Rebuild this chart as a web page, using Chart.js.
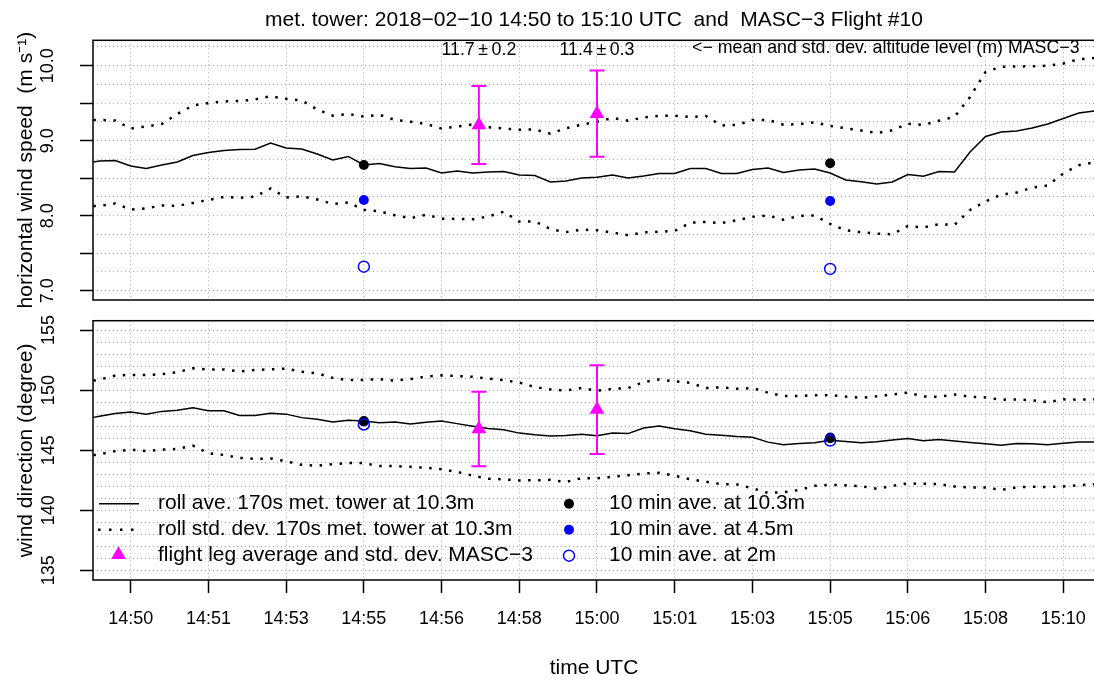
<!DOCTYPE html>
<html>
<head>
<meta charset="utf-8">
<script src="https://cdn.jsdelivr.net/npm/chart.js@4.4.1/dist/chart.umd.min.js"></script>
<style>
  html, body { margin: 0; padding: 0; background: #fff; overflow: hidden; }
  #wrap { position: relative; width: 1094px; height: 681px; overflow: hidden; background: #fff; }
  canvas { position: absolute; left: 0; }
  #speedChart { top: 0; }
  #dirChart { top: 300px; }
</style>
</head>
<body>
<div id="wrap">
  <canvas id="speedChart" width="1095" height="320"></canvas>
  <canvas id="dirChart" width="1095" height="381"></canvas>
</div>
<script>
// time axis in seconds after 14:50:00 UTC
const towerTime = [-48, -40, -20, 0, 20, 40, 60, 80, 100, 120, 140, 160, 180, 200, 220, 240, 260, 280,
  300, 320, 340, 360, 380, 400, 420, 440, 460, 480, 500, 520, 540, 560, 580, 600, 620, 640, 660, 680,
  700, 720, 740, 760, 780, 800, 820, 840, 860, 880, 900, 920, 940, 960, 980, 1000, 1020, 1040, 1060,
  1080, 1100, 1120, 1140, 1160, 1180, 1200, 1220, 1240];

// tick positions (every 100 s)
const xTickValues = [0, 100, 200, 300, 400, 500, 600, 700, 800, 900, 1000, 1100, 1200];

// met. tower 10.3m, rolling 170s mean and mean +/- std. dev.
const speedMean = [8.717, 8.730, 8.737, 8.663, 8.630, 8.677, 8.717, 8.803, 8.843, 8.870, 8.883, 8.886,
  8.970, 8.903, 8.890, 8.823, 8.743, 8.790, 8.677, 8.697, 8.654, 8.630, 8.637, 8.570, 8.597, 8.570,
  8.583, 8.590, 8.543, 8.537, 8.450, 8.463, 8.503, 8.513, 8.543, 8.503, 8.530, 8.563, 8.563, 8.630,
  8.630, 8.563, 8.563, 8.617, 8.637, 8.577, 8.610, 8.623, 8.570, 8.477, 8.454, 8.423, 8.450, 8.550,
  8.526, 8.590, 8.583, 8.850, 9.057, 9.117, 9.130, 9.170, 9.223, 9.297, 9.370, 9.397];
const speedUpper = [9.277, 9.277, 9.270, 9.163, 9.190, 9.223, 9.357, 9.470, 9.503, 9.523, 9.530, 9.550,
  9.593, 9.559, 9.537, 9.417, 9.334, 9.357, 9.321, 9.346, 9.277, 9.253, 9.223, 9.163, 9.190, 9.217,
  9.179, 9.163, 9.146, 9.150, 9.094, 9.166, 9.213, 9.253, 9.303, 9.267, 9.310, 9.333, 9.334, 9.317,
  9.330, 9.203, 9.210, 9.277, 9.277, 9.214, 9.221, 9.246, 9.197, 9.166, 9.137, 9.103, 9.139, 9.227,
  9.210, 9.267, 9.317, 9.583, 9.917, 9.986, 9.990, 9.993, 9.999, 10.029, 10.087, 10.103];
const speedLower = [8.130, 8.130, 8.163, 8.083, 8.097, 8.137, 8.130, 8.170, 8.210, 8.250, 8.239, 8.254,
  8.363, 8.243, 8.259, 8.217, 8.157, 8.177, 8.077, 8.059, 8.006, 7.967, 8.014, 7.961, 7.957, 7.953,
  7.990, 8.053, 7.921, 7.923, 7.823, 7.781, 7.814, 7.805, 7.775, 7.739, 7.777, 7.787, 7.797, 7.907,
  7.917, 7.901, 7.939, 7.985, 8.003, 7.946, 7.997, 8.003, 7.890, 7.806, 7.779, 7.761, 7.753, 7.863,
  7.843, 7.887, 7.877, 8.077, 8.190, 8.281, 8.310, 8.374, 8.403, 8.563, 8.674, 8.713];

const dirMean = [147.73, 147.83, 148.06, 148.18, 148.00, 148.23, 148.32, 148.54, 148.29, 148.28, 147.88,
  147.88, 148.08, 148.00, 147.71, 147.58, 147.35, 147.50, 147.42, 147.28, 147.35, 147.17, 147.33,
  147.43, 147.21, 147.00, 146.81, 146.70, 146.42, 146.28, 146.18, 146.23, 146.33, 146.20, 146.42,
  146.38, 146.85, 147.02, 146.79, 146.61, 146.33, 146.24, 146.14, 146.07, 145.67, 145.45, 145.56,
  145.62, 145.83, 145.72, 145.61, 145.71, 145.85, 145.98, 145.79, 145.88, 145.77, 145.64, 145.53,
  145.42, 145.56, 145.54, 145.46, 145.58, 145.68, 145.69];
const dirUpper = [150.79, 150.88, 151.21, 151.27, 151.25, 151.33, 151.50, 151.81, 151.71, 151.72, 151.56,
  151.68, 151.73, 151.79, 151.52, 151.40, 151.02, 150.83, 150.85, 150.92, 150.79, 150.92, 151.13,
  151.23, 151.17, 151.11, 150.96, 150.83, 150.63, 150.25, 150.06, 149.96, 150.17, 149.95, 150.10,
  150.17, 150.67, 150.89, 150.73, 150.60, 150.17, 150.23, 150.11, 150.17, 149.79, 149.50, 149.50,
  149.58, 149.58, 149.46, 149.37, 149.48, 149.64, 149.79, 149.48, 149.44, 149.64, 149.45, 149.39,
  149.20, 149.23, 149.14, 149.00, 149.23, 149.20, 149.25];
const dirLower = [144.58, 144.67, 144.92, 145.04, 144.93, 145.05, 145.10, 145.38, 144.75, 144.60, 144.36,
  144.28, 144.31, 144.08, 143.78, 143.71, 143.83, 143.94, 143.92, 143.68, 143.67, 143.61, 143.53,
  143.42, 143.19, 142.88, 142.63, 142.57, 142.48, 142.49, 142.53, 142.35, 142.67, 142.66, 142.79,
  142.92, 143.06, 143.11, 142.87, 142.58, 142.37, 142.17, 142.15, 141.83, 141.44, 141.50, 141.68,
  142.03, 142.12, 142.07, 142.00, 141.79, 142.03, 142.23, 142.20, 142.17, 141.98, 141.89, 141.90,
  141.69, 141.91, 141.96, 141.93, 141.98, 142.08, 142.17];

// 10 min averages (14:55 and 15:05)
const avgTime = [300, 900];
const speed10m = [8.677, 8.700];
const speed4m = [8.210, 8.197];
const speed2m = [7.320, 7.290];
const dir10m = [147.42, 146.00];
const dir4m = [147.38, 146.05];
const dir2m = [147.14, 145.80];

// MASC-3 flight legs
const legTime = [448, 600];
const legSpeedMean = [9.21, 9.36];
const legSpeedSd = [0.52, 0.575];
const legDirMean = [146.77, 148.38];
const legDirSd = [3.10, 3.70];
const legAltMean = ["11.7", "11.4"];
const legAltSd = ["0.2", "0.3"];

const FONT = '"Liberation Sans", Arial, Helvetica, sans-serif';
const MAGENTA = "#ff00ff";
const BLUE = "#0000ff";
const GRID = "#a8a8a8";
const DOTS = [2.5, 7.5];

Chart.defaults.font.family = FONT;
Chart.defaults.color = "#000";

// x range: left edge 14:49:11, right edge just past the picture
const xMin = -48.5;
const xMax = 1240.8;

function pairs(xs, ys) {
    return xs.map((x, i) => ({ x: x, y: ys[i] }));
}

function errorBars(xs, mean, sd) {
    const out = [];
    xs.forEach((x, i) => {
        if (i > 0) out.push({ x: x - 1, y: null });
        out.push({ x: x, y: mean[i] - sd[i] }, { x: x, y: mean[i] + sd[i] });
    });
    return out;
}

function isMultiple(v, step) {
    const r = v / step;
    return Math.abs(r - Math.round(r)) < 1e-6;
}

function clock(v) {
    const s = 14 * 3600 + 50 * 60 + v;
    const h = Math.floor(s / 3600);
    const m = Math.floor((s % 3600) / 60);
    return h + ":" + String(m).padStart(2, "0");
}

function buildDatasets(mean, upper, lower, p10, p4, p2, lMean, lSd) {
    return [
        { data: pairs(avgTime, p2), showLine: false, pointRadius: 5.5, pointBorderWidth: 1.5,
          pointBorderColor: BLUE, pointBackgroundColor: "rgba(0,0,0,0)" },
        { data: pairs(avgTime, p10), showLine: false, pointRadius: 5, pointBorderWidth: 0,
          pointBackgroundColor: "#000" },
        { data: pairs(avgTime, p4), showLine: false, pointRadius: 5, pointBorderWidth: 0,
          pointBackgroundColor: BLUE },
        { data: pairs(legTime, lMean), showLine: false, pointStyle: "triangle", pointRadius: 8.5,
          pointBorderWidth: 0, pointBackgroundColor: MAGENTA },
        { data: errorBars(legTime, lMean, lSd), borderColor: MAGENTA, borderWidth: 2, spanGaps: false,
          pointStyle: "line", pointRadius: 7.5, pointBorderWidth: 2, pointBorderColor: MAGENTA },
        { data: pairs(towerTime, mean), borderColor: "#000", borderWidth: 1.5, pointRadius: 0 },
        { data: pairs(towerTime, upper), borderColor: "#000", borderWidth: 2.5, borderDash: DOTS, pointRadius: 0 },
        { data: pairs(towerTime, lower), borderColor: "#000", borderWidth: 2.5, borderDash: DOTS, pointRadius: 0 }
    ];
}

function xScale(showLabels) {
    const s = {
        type: "linear",
        min: xMin,
        max: xMax,
        afterBuildTicks: sc => { sc.ticks = xTickValues.map(v => ({ value: v })); },
        border: { display: false, dash: [1, 3] }
    };
    if (showLabels) {
        s.afterFit = sc => { sc.height = 101; sc.paddingLeft = 0; sc.paddingRight = 0; };
        s.ticks = { autoSkip: false, maxRotation: 0, minRotation: 0, padding: 15.7,
                    font: { size: 18 }, color: "#000", callback: v => clock(v) };
        s.grid = { color: GRID, lineWidth: 1, tickLength: 13, tickWidth: 1.5, tickColor: "#000" };
        s.title = { display: true, text: "time UTC", font: { size: 21 }, color: "#000", padding: { top: 0, bottom: 0.5 } };
    } else {
        s.ticks = { display: false };
        s.grid = { color: GRID, lineWidth: 1, drawTicks: false };
    }
    return s;
}

function yScale(min, max, step, tickEvery, labelEvery, fmt, title, pad) {
    return {
        type: "linear",
        min: min,
        max: max,
        afterFit: s => { s.width = 93; s.paddingTop = 0; s.paddingBottom = 0; },
        ticks: {
            stepSize: step, includeBounds: false, autoSkip: false,
            minRotation: 90, maxRotation: 90, crossAlign: "center", padding: pad,
            font: { size: 18 }, color: "#000",
            callback: v => isMultiple(v, labelEvery) ? fmt(v) : ""
        },
        grid: {
            color: GRID, lineWidth: 1, tickLength: 13, tickWidth: 1.5,
            tickColor: c => (c.tick && isMultiple(c.tick.value, tickEvery)) ? "#000" : "rgba(0,0,0,0)"
        },
        border: { display: false, dash: [1, 3] },
        title: { display: true, text: title, font: { size: 21 }, color: "#000", padding: { top: 14, bottom: 0 } }
    };
}

const boxPlugin = {
    id: "box",
    afterDatasetsDraw(chart) {
        const { ctx, chartArea: a } = chart;
        ctx.save();
        ctx.strokeStyle = "#000";
        ctx.lineWidth = 1.5;
        ctx.strokeRect(a.left, a.top, a.right - a.left, a.bottom - a.top);
        ctx.restore();
    }
};

const altitudePlugin = {
    id: "altitude",
    afterDatasetsDraw(chart) {
        const { ctx } = chart;
        const x = chart.scales.x;
        ctx.save();
        ctx.font = "17.8px " + FONT;
        ctx.fillStyle = "#000";
        ctx.textBaseline = "middle";
        ctx.textAlign = "center";
        legTime.forEach((t, i) => {
            ctx.fillText(legAltMean[i] + "\u2009\u00b1\u2009" + legAltSd[i], x.getPixelForValue(t), 50);
        });
        ctx.textAlign = "left";
        ctx.fillText("<\u2212 mean and std. dev. altitude level (m) MASC\u22123", 692, 48);
        ctx.restore();
    }
};

const legendPlugin = {
    id: "rlegend",
    afterDatasetsDraw(chart) {
        const { ctx } = chart;
        const rows = [203.7, 229.7, 255.7];
        ctx.save();
        // left column
        ctx.strokeStyle = "#000";
        ctx.lineWidth = 1.5;
        ctx.beginPath();
        ctx.moveTo(99, rows[0]);
        ctx.lineTo(139, rows[0]);
        ctx.stroke();
        ctx.lineWidth = 2.5;
        ctx.setLineDash([2.5, 8.5]);
        ctx.beginPath();
        ctx.moveTo(98, rows[1]);
        ctx.lineTo(136, rows[1]);
        ctx.stroke();
        ctx.setLineDash([]);
        const r = 8.5, tx = 118.5, ty = rows[2] - 1;
        ctx.fillStyle = MAGENTA;
        ctx.beginPath();
        ctx.moveTo(tx, ty - r);
        ctx.lineTo(tx + r * 0.866, ty + r / 2);
        ctx.lineTo(tx - r * 0.866, ty + r / 2);
        ctx.closePath();
        ctx.fill();
        // right column
        ctx.fillStyle = "#000";
        ctx.beginPath();
        ctx.arc(569, rows[0], 5, 0, Math.PI * 2);
        ctx.fill();
        ctx.fillStyle = BLUE;
        ctx.beginPath();
        ctx.arc(569, rows[1], 5, 0, Math.PI * 2);
        ctx.fill();
        ctx.strokeStyle = BLUE;
        ctx.lineWidth = 1.5;
        ctx.beginPath();
        ctx.arc(569, rows[2], 5.5, 0, Math.PI * 2);
        ctx.stroke();
        // texts
        ctx.font = "21px " + FONT;
        ctx.fillStyle = "#000";
        ctx.textBaseline = "middle";
        ctx.textAlign = "left";
        ctx.fillText("roll ave. 170s met. tower at 10.3m", 158, rows[0]);
        ctx.fillText("roll std. dev. 170s met. tower at 10.3m", 158, rows[1]);
        ctx.fillText("flight leg average and std. dev. MASC\u22123", 158, rows[2]);
        ctx.fillText("10 min ave. at 10.3m", 609, rows[0]);
        ctx.fillText("10 min ave. at 4.5m", 609, rows[1]);
        ctx.fillText("10 min ave. at 2m", 609, rows[2]);
        ctx.restore();
    }
};

const common = {
    responsive: false,
    animation: false,
    events: [],
    elements: { line: { tension: 0 } }
};

new Chart(document.getElementById("speedChart"), {
    type: "line",
    data: { datasets: buildDatasets(speedMean, speedUpper, speedLower, speed10m, speed4m, speed2m, legSpeedMean, legSpeedSd) },
    options: {
        ...common,
        layout: { autoPadding: false, padding: { top: 0, right: 0, bottom: 20, left: 0 } },
        plugins: {
            legend: { display: false },
            tooltip: { enabled: false },
            title: {
                display: true,
                fullSize: false,
                text: "met. tower: 2018\u221202\u221210 14:50 to 15:10 UTC  and  MASC\u22123 Flight #10",
                font: { size: 21, weight: "normal" },
                color: "#000",
                padding: { top: 8.1, bottom: 7 }
            }
        },
        scales: {
            x: xScale(false),
            y: yScale(6.876, 10.339, 0.25, 0.5, 1, v => v.toFixed(1), "horizontal wind speed  (m s\u207b\u00b9)", 14)
        }
    },
    plugins: [boxPlugin, altitudePlugin]
});

new Chart(document.getElementById("dirChart"), {
    type: "line",
    data: { datasets: buildDatasets(dirMean, dirUpper, dirLower, dir10m, dir4m, dir2m, legDirMean, legDirSd) },
    options: {
        ...common,
        layout: { autoPadding: false, padding: { top: 20.7, right: 0, bottom: 0, left: 0 } },
        plugins: { legend: { display: false }, tooltip: { enabled: false } },
        scales: {
            x: xScale(true),
            y: yScale(134.19, 155.78, 1, 5, 5, v => String(v), "wind direction (degree)", 16)
        }
    },
    plugins: [boxPlugin, legendPlugin]
});
</script>
</body>
</html>
